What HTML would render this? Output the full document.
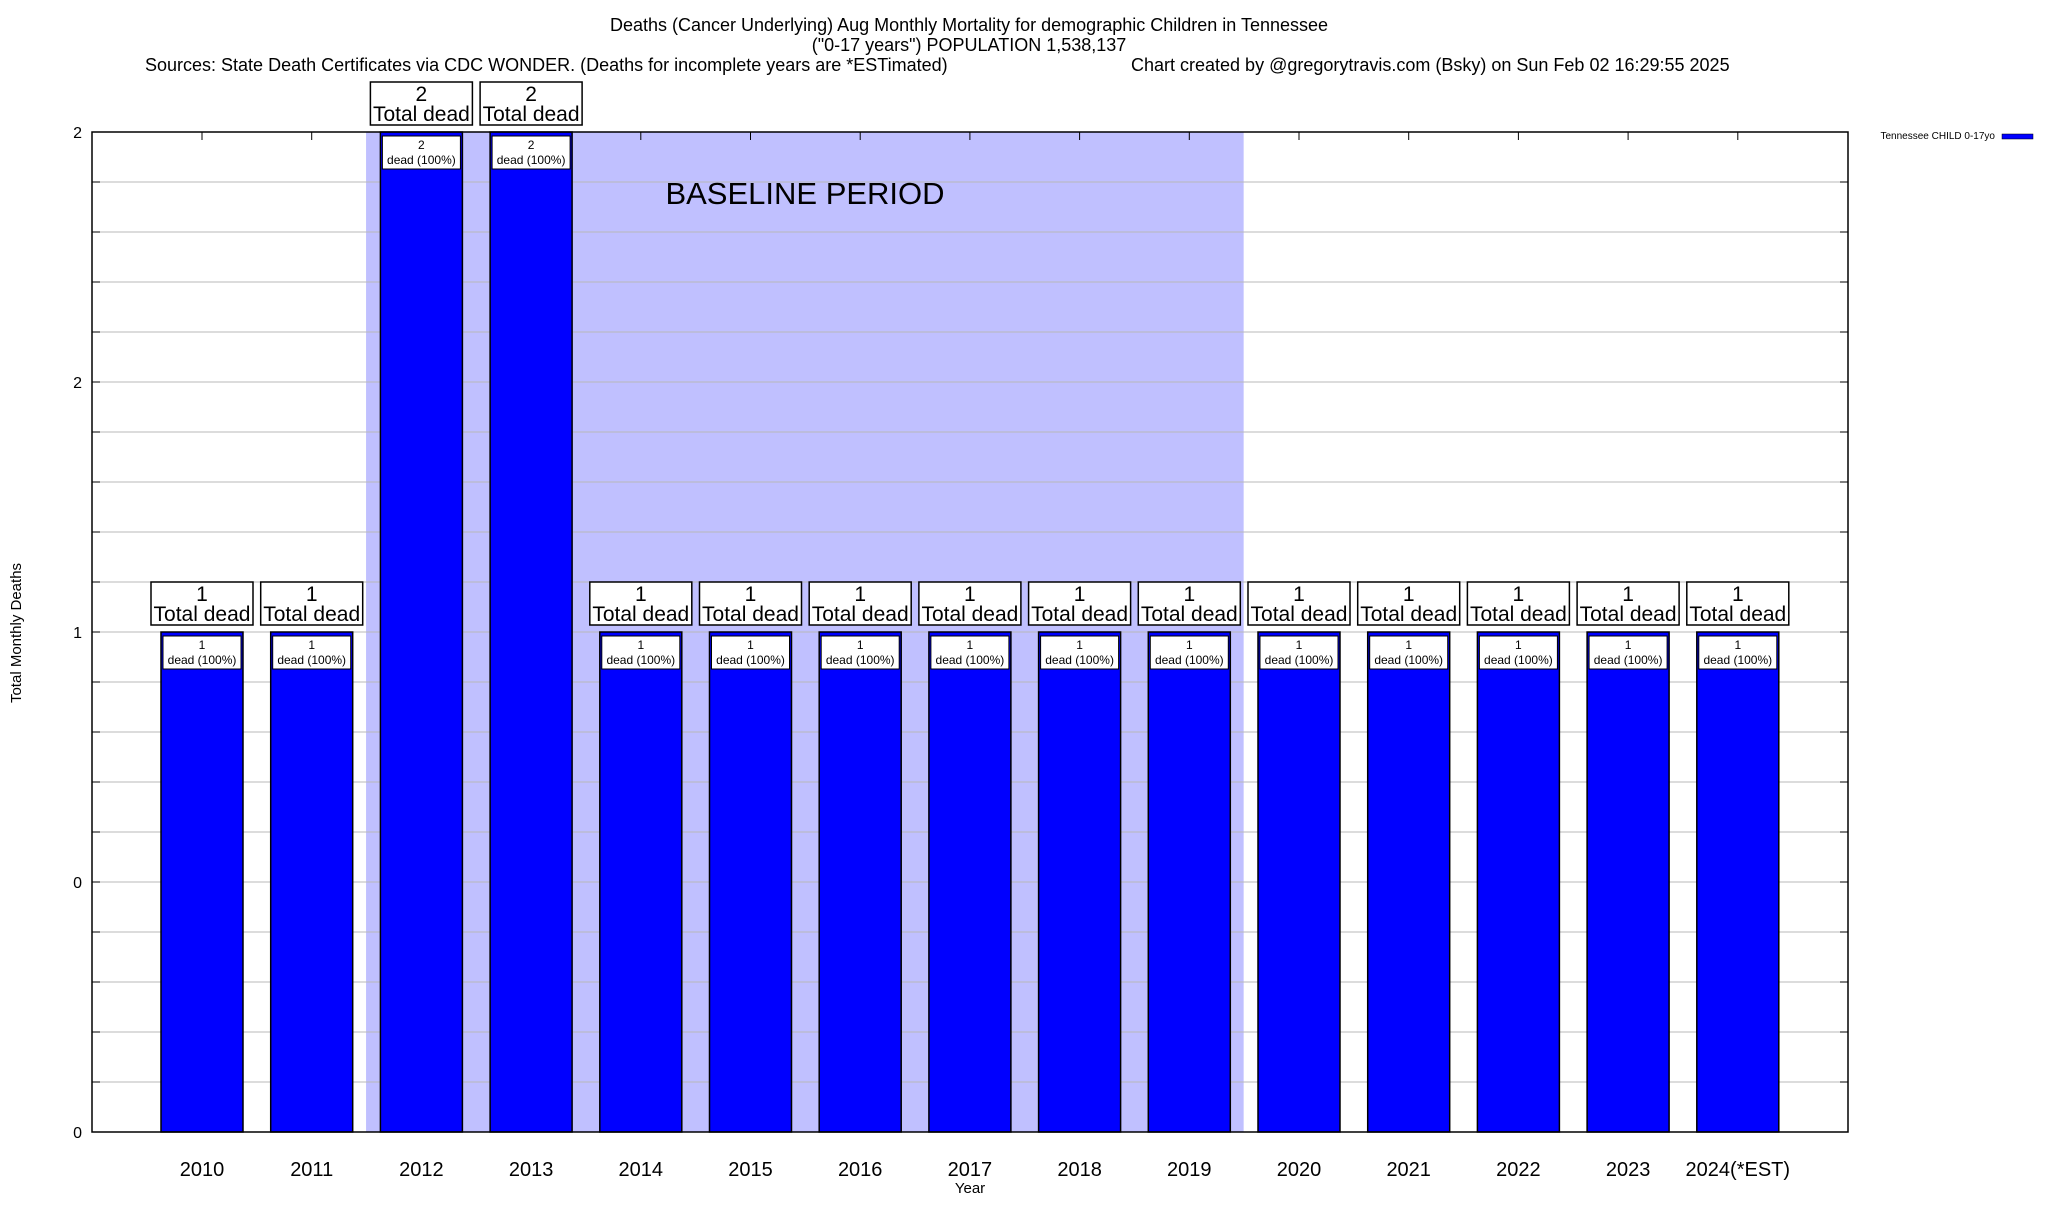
<!DOCTYPE html>
<html><head><meta charset="utf-8"><style>
html,body{margin:0;padding:0;background:#fff;}
svg text{font-family:"Liberation Sans",sans-serif;fill:#000;}
</style></head><body>
<svg id="chart" width="2048" height="1200" viewBox="0 0 2048 1200" xmlns="http://www.w3.org/2000/svg">
<text x="969" y="31" font-size="18" text-anchor="middle">Deaths (Cancer Underlying) Aug Monthly Mortality for demographic Children in Tennessee</text>
<text x="969" y="51" font-size="18" text-anchor="middle">("0-17 years") POPULATION 1,538,137</text>
<text x="145" y="71" font-size="18">Sources: State Death Certificates via CDC WONDER. (Deaths for incomplete years are *ESTimated)</text>
<text x="1131" y="71" font-size="18">Chart created by @gregorytravis.com (Bsky) on Sun Feb 02 16:29:55 2025</text>
<g id="plot"></g>
<text x="1995" y="139" font-size="10" text-anchor="end">Tennessee CHILD 0-17yo</text>
<rect x="2002" y="134" width="31" height="5" fill="#0000ff" stroke="#000" stroke-width="0.5"/>
<text x="970" y="1193" font-size="15" text-anchor="middle">Year</text>
<text transform="translate(21,633) rotate(-90)" font-size="15" text-anchor="middle">Total Monthly Deaths</text>
</svg>
<script>
const categories=["2010","2011","2012","2013","2014","2015","2016","2017","2018","2019","2020","2021","2022","2023","2024(*EST)"];
const deaths=[1,1,2,2,1,1,1,1,1,1,1,1,1,1,1];
const yTickValues=[0,0.5,1,1.5,2];
const yTickLabels=["0","0","1","2","2"];
const baselineStart="2012", baselineEnd="2019";
const NS="http://www.w3.org/2000/svg";
const L=92,R=1848,T=132,B=1132,yMax=2;
const step=109.7,x0=202,bw=82;
function xPos(i){return x0+i*step;}
function yPos(v){return B-(v/yMax)*(B-T);}
const g=document.getElementById('plot');
function mk(tag,attrs){const e=document.createElementNS(NS,tag);for(const k in attrs)e.setAttribute(k,attrs[k]);g.appendChild(e);return e;}
// baseline band
const bi=categories.indexOf(baselineStart),ei=categories.indexOf(baselineEnd);
const band=mk('rect',{x:xPos(bi)-step/2-0.5,y:T,width:(xPos(ei)+step/2)-(xPos(bi)-step/2),height:B-T,fill:'#c0c0ff'});


// gridlines
for(let k=1;k<20;k++){const v=k*0.1;const y=yPos(v);
const gl=mk('line',{x1:L,x2:R,y1:y,y2:y,stroke:'#b8b8b8','stroke-width':1});


mk('line',{x1:L,x2:L+8,y1:y,y2:y,stroke:'#000','stroke-width':1});
mk('line',{x1:R-8,x2:R,y1:y,y2:y,stroke:'#000','stroke-width':1});}
const bt=mk('text',{x:805,y:204,'font-size':31,'text-anchor':'middle'});bt.textContent='BASELINE PERIOD';


// y ticks
yTickValues.forEach((v,i)=>{const t=mk('text',{x:82,y:yPos(v)+6,'font-size':16,'text-anchor':'end'});t.textContent=yTickLabels[i];

});
// bars
categories.forEach((c,i)=>{const cx=xPos(i),v=deaths[i],yt=yPos(v);
mk('line',{x1:cx,x2:cx,y1:T,y2:T+8,stroke:'#000'});mk('line',{x1:cx,x2:cx,y1:B-8,y2:B,stroke:'#000'});
const b=mk('rect',{x:cx-bw/2,y:yt,width:bw,height:B-yt,fill:'#0000ff',stroke:'#000','stroke-width':1.5});


const ib=mk('rect',{x:cx-bw/2+2,y:yt+4,width:bw-4,height:33,fill:'#fff',stroke:'#000','stroke-width':1});


const t1=mk('text',{x:cx,y:yt+17,'font-size':12,'text-anchor':'middle'});t1.textContent=String(v);


const t2=mk('text',{x:cx,y:yt+32,'font-size':12,'text-anchor':'middle'});t2.textContent='dead (100%)';


const ob=mk('rect',{x:cx-51,y:yt-50,width:102,height:43,fill:'#fff',stroke:'#000','stroke-width':1.5});


const t3=mk('text',{x:cx,y:yt-31,'font-size':21,'text-anchor':'middle'});t3.textContent=String(v);


const t4=mk('text',{x:cx,y:yt-11,'font-size':21,'text-anchor':'middle'});t4.textContent='Total dead';


const xl=mk('text',{x:cx,y:1176,'font-size':20,'text-anchor':'middle'});xl.textContent=c;

});
const fr=mk('rect',{x:L,y:T,width:R-L,height:B-T,fill:'none',stroke:'#000','stroke-width':1.5});


</script>
</body></html>
